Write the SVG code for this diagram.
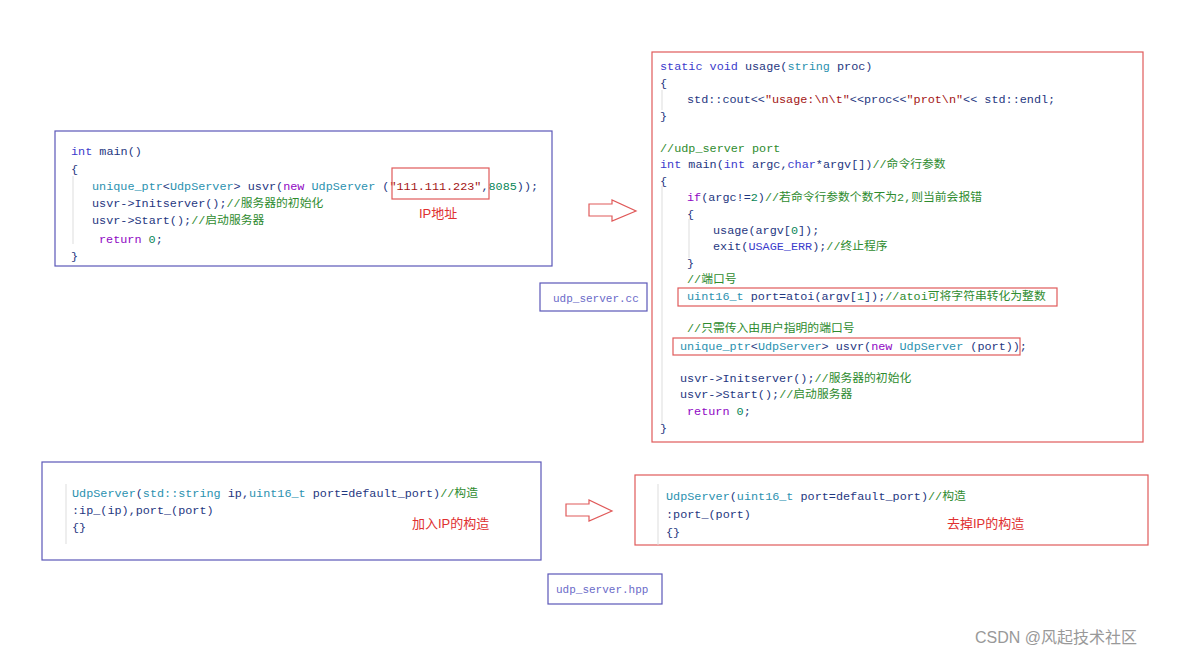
<svg xmlns="http://www.w3.org/2000/svg" width="1182" height="656" viewBox="0 0 1182 656">
<style>
.c{font-family:"Liberation Mono","Noto Sans CJK SC",monospace;font-size:11.8px;fill:#1f377f}
.bb{fill:none;stroke:#5b57b8;stroke-width:1.2}
.rb{fill:none;stroke:#e05a5a;stroke-width:1.2}
.k{fill:#3b3bcc}.t{fill:#2b91af}.p{fill:#8f08c4}.g{fill:#2e8b2e}.s{fill:#a31515}.n{fill:#098658}.x{fill:#555}
.lab{font-family:"Liberation Sans","Noto Sans CJK SC",sans-serif;font-size:13px;fill:#e03030}
.fn{font-family:"Liberation Mono",monospace;font-size:11px;fill:#6a6ac8}
.guide{stroke:#ddd;stroke-width:1}
.arr{fill:#fff;stroke:#e05a5a;stroke-width:1.2}
</style>
<rect width="1182" height="656" fill="#fff"/>
<g id="main-old">
<rect class="bb" x="55" y="131" width="497" height="135"/>
<line class="guide" x1="73" y1="176" x2="73" y2="244"/>
<text class="c" x="71" y="155"><tspan class="k">int</tspan> main()</text>
<text class="c" x="71" y="173" fill="#3b3bcc">{</text>
<text class="c" x="92" y="190"><tspan class="t">unique_ptr</tspan>&lt;<tspan class="t">UdpServer</tspan>&gt; usvr(<tspan class="p">new</tspan> <tspan class="t">UdpServer</tspan> (<tspan class="s">"111.111.223"</tspan>,<tspan class="n">8085</tspan>));</text>
<text class="c" x="92" y="207">usvr-&gt;Initserver();<tspan class="g">//服务器的初始化</tspan></text>
<text class="c" x="92" y="224">usvr-&gt;Start();<tspan class="g">//启动服务器</tspan></text>
<text class="c" x="99" y="243"><tspan class="p">return</tspan> <tspan class="n">0</tspan>;</text>
<text class="c" x="71" y="260" fill="#3b3bcc">}</text>
<rect class="rb" x="392" y="168" width="97" height="31"/>
<text class="lab" x="419" y="218">IP地址</text>
</g>
<g id="label-cc">
<rect class="bb" x="540" y="283" width="107" height="28"/>
<text class="fn" x="553" y="302">udp_server.cc</text>
</g>
<g id="main-new">
<rect class="rb" x="652" y="52" width="491" height="390"/>
<line class="guide" x1="662" y1="90" x2="662" y2="110"/>
<line class="guide" x1="662" y1="186" x2="662" y2="424"/>
<line class="guide" x1="689" y1="219" x2="689" y2="258"/>
<text class="c" x="660" y="70"><tspan class="k">static void</tspan> usage(<tspan class="t">string</tspan> proc)</text>
<text class="c" x="660" y="87" fill="#3b3bcc">{</text>
<text class="c" x="687" y="103">std::cout&lt;&lt;<tspan class="s">"usage:\n\t"</tspan>&lt;&lt;proc&lt;&lt;<tspan class="s">"prot\n"</tspan>&lt;&lt; std::endl;</text>
<text class="c" x="660" y="120" fill="#3b3bcc">}</text>
<text class="c" x="660" y="152"><tspan class="g">//udp_server port</tspan></text>
<text class="c" x="660" y="168"><tspan class="k">int</tspan> main(<tspan class="k">int</tspan> argc,<tspan class="k">char</tspan>*argv[])<tspan class="g">//命令行参数</tspan></text>
<text class="c" x="660" y="185" fill="#3b3bcc">{</text>
<text class="c" x="687" y="201"><tspan class="p">if</tspan>(argc!=<tspan class="n">2</tspan>)<tspan class="g">//若命令行参数个数不为2,则当前会报错</tspan></text>
<text class="c" x="687" y="218" fill="#2e8b2e">{</text>
<text class="c" x="713" y="234">usage(argv[<tspan class="n">0</tspan>]);</text>
<text class="c" x="713" y="250">exit(<tspan class="k">USAGE_ERR</tspan>);<tspan class="g">//终止程序</tspan></text>
<text class="c" x="687" y="267" fill="#2e8b2e">}</text>
<text class="c" x="687" y="283"><tspan class="g">//端口号</tspan></text>
<text class="c" x="687" y="300"><tspan class="t">uint16_t</tspan> port=atoi(argv[<tspan class="n">1</tspan>]);<tspan class="g">//atoi可将字符串转化为整数</tspan></text>
<text class="c" x="687" y="332"><tspan class="g">//只需传入由用户指明的端口号</tspan></text>
<text class="c" x="680" y="350"><tspan class="t">unique_ptr</tspan>&lt;<tspan class="t">UdpServer</tspan>&gt; usvr(<tspan class="p">new</tspan> <tspan class="t">UdpServer</tspan> (port));</text>
<text class="c" x="680" y="382">usvr-&gt;Initserver();<tspan class="g">//服务器的初始化</tspan></text>
<text class="c" x="680" y="398">usvr-&gt;Start();<tspan class="g">//启动服务器</tspan></text>
<text class="c" x="687" y="415"><tspan class="p">return</tspan> <tspan class="n">0</tspan>;</text>
<text class="c" x="660" y="432" fill="#3b3bcc">}</text>
<rect class="rb" x="678" y="288" width="379" height="18"/>
<rect class="rb" x="673" y="338" width="347" height="17"/>
</g>
<g id="ctor-old">
<rect class="bb" x="42" y="462" width="499" height="98"/>
<line class="guide" x1="66" y1="484" x2="66" y2="544"/>
<text class="c" x="72" y="497"><tspan class="t">UdpServer</tspan>(<tspan class="t">std::string</tspan> ip,<tspan class="t">uint16_t</tspan> port=default_port)<tspan class="g">//构造</tspan></text>
<text class="c" x="72" y="514">:ip_(ip),port_(port)</text>
<text class="c" x="72" y="531" fill="#8a6d3b">{}</text>
<text class="lab" x="412" y="528">加入IP的构造</text>
</g>
<g id="ctor-new">
<rect class="rb" x="635" y="475" width="513" height="70"/>
<line class="guide" x1="658" y1="484" x2="658" y2="545"/>
<text class="c" x="666" y="500"><tspan class="t">UdpServer</tspan>(<tspan class="t">uint16_t</tspan> port=default_port)<tspan class="g">//构造</tspan></text>
<text class="c" x="666" y="518">:port_(port)</text>
<text class="c" x="666" y="536" fill="#8a6d3b">{}</text>
<text class="lab" x="947" y="528">去掉IP的构造</text>
</g>
<g id="label-hpp">
<rect class="bb" x="548" y="574" width="114" height="30"/>
<text class="fn" x="556" y="593">udp_server.hpp</text>
</g>
<g id="connectors">
<polygon class="arr" points="589,204 612,204 612,200 636,211 612,221 612,216 589,216"/>
<polygon class="arr" points="566,504 589,504 589,500 612,511 589,521 589,516 566,516"/>
</g>
<text x="975" y="643" font-family="Liberation Sans,Noto Sans CJK SC,sans-serif" font-size="16" fill="#999">CSDN @风起技术社区</text>
</svg>
